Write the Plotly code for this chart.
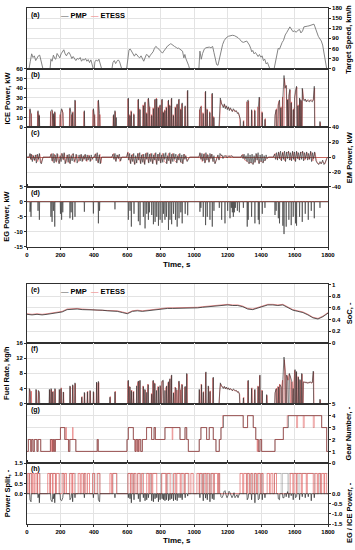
import plotly.graph_objects as go

# ---------------- DATA ----------------
SPEED = [(0,0),(12,0),(20,22),(28,44),(36,33),(44,38),(52,24),(60,30),(68,38),(76,40),(84,22),(90,10),(95,0),
 (138,0),(143,28),(150,22),(158,40),(166,30),(172,28),(180,45),(188,36),(196,32),(204,44),(212,52),(220,56),(228,44),
 (236,38),(244,46),(252,48),(260,40),(268,30),(276,36),(284,30),(292,24),(300,30),(310,28),(318,33),(326,22),(334,28),
 (342,25),(350,30),(358,22),(366,27),(374,18),(382,26),(390,14),(396,0),(402,0),(406,20),(414,26),(422,22),(430,28),
 (438,16),(446,0),(508,0),(514,18),(522,24),(530,15),(538,22),(546,26),(554,20),(560,10),(566,0),(596,0),(602,30),
 (610,56),(618,58),(626,50),(634,40),(642,37),(650,44),(658,41),(666,35),(674,32),(682,38),(690,27),(698,22),(706,32),
 (714,42),(722,40),(730,33),(738,40),(746,45),(754,50),(762,60),(770,66),(778,63),(786,58),(794,55),(802,50),(810,46),
 (818,52),(826,58),(834,62),(842,68),(850,70),(858,74),(866,72),(874,68),(882,66),(890,64),(898,60),(906,61),(914,58),
 (922,56),(930,52),(938,32),(944,42),(950,30),(958,22),(966,10),(972,0),(1028,0),(1034,52),(1042,28),(1050,45),
 (1060,58),(1070,62),(1080,63),(1090,64),(1100,62),(1110,66),(1118,48),(1126,26),(1134,12),(1142,10),(1150,30),
 (1160,55),(1170,72),(1180,84),(1192,92),(1204,96),(1216,98),(1228,99),(1240,98),(1250,96),(1262,92),(1274,86),
 (1284,80),(1294,78),(1304,80),(1314,82),(1322,76),(1330,70),(1338,60),(1344,50),(1350,54),(1358,44),(1366,48),
 (1374,40),(1382,36),(1390,42),(1398,34),(1406,38),(1414,24),(1422,28),(1430,14),(1438,18),(1446,6),(1452,0),
 (1478,0),(1486,22),(1494,44),(1502,60),(1510,58),(1518,70),(1526,78),(1534,84),(1544,100),(1554,108),(1564,120),
 (1572,124),(1580,118),(1590,110),(1600,112),(1610,108),(1620,114),(1630,116),(1638,106),(1648,112),(1656,124),
 (1666,126),(1676,126),(1686,127),(1696,128),(1706,130),(1716,132),(1722,124),(1732,108),(1742,96),(1752,88),
 (1760,82),(1768,70),(1776,45),(1784,25),(1792,0),(1800,0)]

ICE_PMP = [(18,19),(24,13),(66,17),(74,12),(143,17),(150,18),(158,14),(166,16),(200,14),(207,19),(214,15),(257,20),
 (264,14),(273,15),(287,28),(343,17),(397,19),(403,12),(427,28),(434,14),(518,13),(526,17),(534,10),
 (606,30),(616,12),(624,16),(640,13),(666,29),(676,18),(696,22),(706,26),(716,14),(726,30),(732,20),(746,12),(756,19),
 (766,29),(776,29),(786,20),(796,23),(808,29),(816,15),(825,17),(834,20),(846,28),(855,22),(865,30),(876,12),(888,20),
 (898,24),(909,29),(920,18),(928,25),(946,22),(961,38),
 (1034,19),(1040,21),(1054,14),(1068,37),(1078,18),(1094,15),(1108,35),(1118,10),
 (1150,12),(1156,30),(1162,25),(1168,22),(1174,20),(1180,24),(1186,19),(1192,22),(1198,18),(1204,21),(1210,17),
 (1216,20),(1222,18),(1228,16),(1234,19),(1240,17),(1246,16),(1252,17),(1258,14),(1264,15),(1270,12),(1276,8),
 (1294,6),(1317,27),(1323,28),(1343,18),(1363,17),(1383,20),(1389,31),(1407,15),(1423,8),
 (1483,12),(1490,18),(1503,22),(1510,28),(1518,20),(1530,30),(1537,53),(1543,40),(1550,43),(1558,28),(1566,33),
 (1572,39),(1580,25),(1592,18),(1600,30),(1606,38),(1612,42),(1620,22),(1630,30),(1638,28),
 (1646,40),(1652,28),(1658,27),(1664,29),(1670,26),(1676,28),(1682,27),(1688,26),(1694,28),(1700,27),(1706,26),
 (1712,28),(1718,42),(1752,6)]

ICE_ETESS = [(16,18),(26,14),(64,16),(72,13),(141,16),(152,17),(160,12),(168,15),(198,13),(209,18),(216,14),(255,19),
 (266,13),(275,16),(289,27),(341,16),(395,18),(405,13),(425,27),(436,13),(516,12),(528,16),
 (604,29),(614,13),(622,17),(638,14),(664,28),(674,19),(694,23),(704,25),(714,15),(724,29),(734,21),(744,13),(754,20),
 (764,28),(774,30),(784,21),(794,22),(806,28),(814,16),(823,18),(832,21),(844,27),(853,23),(863,29),(874,13),(886,21),
 (896,23),(907,28),(918,19),(926,24),(944,21),(959,37),
 (1032,18),(1042,22),(1052,15),(1066,36),(1076,19),(1092,16),(1106,34),(1116,11),
 (1152,14),(1158,28),(1164,24),(1170,23),(1176,21),(1182,23),(1188,20),(1194,21),(1200,19),(1206,20),(1212,18),
 (1218,19),(1224,17),(1230,17),(1236,18),(1242,16),(1248,17),(1254,16),(1260,15),(1266,14),(1272,10),
 (1296,7),(1315,26),(1325,27),(1345,17),(1361,18),(1381,21),(1391,30),(1405,16),(1425,9),
 (1485,13),(1492,19),(1501,23),(1508,27),(1520,21),(1528,31),(1539,50),(1545,41),(1552,42),(1560,29),(1568,32),
 (1574,38),(1582,26),(1594,19),(1602,31),(1608,37),(1614,41),(1622,23),(1632,29),(1640,27),
 (1648,39),(1654,29),(1660,28),(1666,28),(1672,27),(1678,27),(1684,28),(1690,27),(1696,27),(1702,28),(1708,27),
 (1714,29),(1720,40),(1754,5)]

EM_PMP = [(0,0),(12,0),(18,5),(22,-3),(26,4),(32,-6),(38,2),(44,-4),(50,3),(56,-8),(62,4),(68,-3),(74,5),(80,-7),
 (86,-9),(92,-4),(96,0),(138,0),(144,4),(150,-5),(156,5),(162,-8),(168,3),(174,-6),(180,5),(186,-4),(192,-9),(198,2),
 (204,-6),(210,5),(216,-3),(222,6),(228,-9),(234,-4),(240,3),(246,-7),(252,4),(258,-9),(264,2),(270,-5),(276,5),
 (282,-6),(288,-3),(294,4),(300,-8),(306,-2),(312,3),(318,-5),(324,4),(330,-6),(336,2),(342,-3),(348,4),(354,-5),
 (360,3),(366,-4),(372,2),(378,-6),(384,3),(390,-3),(396,0),(402,0),(408,4),(414,-5),(420,6),(426,-8),(432,3),
 (438,-9),(446,0),(508,0),(514,4),(520,-3),(526,5),(532,-6),(538,3),(546,-2),(552,4),(560,-5),(566,0),(596,0),
 (602,6),(608,-4),(614,5),(620,-9),(626,3),(632,-6),(638,5),(644,-10),(650,2),(656,-8),(662,5),(668,-4),(674,6),
 (680,-9),(686,3),(692,-7),(698,4),(704,-10),(710,5),(716,-3),(722,6),(728,-8),(734,4),(740,-6),(746,5),(752,-9),
 (758,3),(764,-4),(770,6),(776,-10),(782,4),(788,-5),(794,6),(800,-8),(806,3),(812,-7),(818,5),(824,-3),(830,6),
 (836,-9),(842,2),(848,-5),(854,6),(860,-9),(866,4),(872,-6),(878,5),(884,-3),(890,4),(896,-8),(902,2),(908,-4),
 (914,5),(920,-7),(926,3),(932,-9),(938,4),(944,-3),(950,2),(958,-6),(966,-3),(972,0),(1028,0),(1034,6),(1040,-3),
 (1046,5),(1052,-5),(1058,4),(1064,-8),(1070,6),(1076,-4),(1082,3),(1088,-7),(1094,5),(1100,-2),(1106,4),(1112,-6),
 (1118,2),(1124,-9),(1130,-5),(1136,-2),(1142,3),(1148,-4),(1154,5),(1160,2),(1166,3),(1172,-2),(1178,2),(1184,1),
 (1190,2),(1196,-1),(1202,1),(1208,2),(1214,0),(1220,1),(1226,2),(1232,0),(1280,0),(1286,3),(1292,-2),(1298,4),
 (1304,-3),(1310,2),(1316,-6),(1322,5),(1328,-9),(1334,3),(1340,-8),(1346,4),(1352,-10),(1358,2),(1364,-7),(1370,5),
 (1376,-4),(1382,6),(1388,-9),(1394,3),(1400,-6),(1406,4),(1412,-8),(1418,2),(1424,-5),(1430,3),(1436,-2),(1444,0),
 (1473,0),(1480,4),(1486,-3),(1492,6),(1498,-4),(1504,7),(1510,-2),(1516,8),(1522,-5),(1528,6),(1534,-3),(1540,8),
 (1546,-6),(1552,7),(1558,-2),(1564,8),(1570,-4),(1576,6),(1582,-5),(1588,8),(1594,-3),(1600,7),(1606,-6),(1612,8),
 (1618,-2),(1624,6),(1630,-4),(1636,7),(1642,-3),(1648,8),(1654,-5),(1660,6),(1666,-2),(1672,7),(1678,-4),(1684,5),
 (1690,-3),(1696,8),(1702,-6),(1708,6),(1714,-2),(1720,7),(1728,-5),(1736,-8),(1744,-10),(1752,-6),(1760,-9),
 (1768,-4),(1776,-10),(1784,-7),(1792,-2),(1800,0)]

EM_ETESS = [(0,0),(14,0),(20,4),(28,-4),(34,3),(46,-5),(58,3),(64,-6),(76,4),(84,-8),(96,0),(138,0),(146,5),(154,-6),
 (164,4),(176,-7),(184,4),(194,-8),(206,5),(218,-4),(224,5),(232,-8),(244,3),(254,-8),(266,3),(278,4),(286,-7),
 (298,3),(310,-6),(322,3),(334,-5),(346,3),(358,-6),(370,3),(382,-5),(396,0),(404,0),(412,5),(424,-7),(436,4),
 (442,-8),(446,0),(508,0),(518,5),(530,-5),(544,3),(556,-6),(566,0),(596,0),(604,7),(618,-8),(630,4),(642,-9),
 (654,-7),(666,5),(678,-8),(690,4),(702,-9),(714,6),(726,-7),(738,5),(750,-8),(762,5),(774,-9),(786,4),(798,-7),
 (810,5),(822,-6),(834,-8),(846,5),(858,-8),(870,5),(882,-5),(894,-7),(906,4),(918,-6),(930,-8),(942,4),(956,-5),
 (972,0),(1028,0),(1036,5),(1048,-6),(1060,5),(1066,-7),(1078,4),(1090,-6),(1102,4),(1114,-5),(1126,-8),(1140,2),
 (1150,-3),(1162,3),(1176,-1),(1190,2),(1206,1),(1220,2),(1232,0),(1280,0),(1290,4),(1302,-4),(1314,-5),(1326,-8),
 (1338,-7),(1350,-9),(1362,-6),(1374,4),(1386,-8),(1398,-5),(1410,-7),(1422,-4),(1444,0),(1473,0),(1484,5),(1496,-3),
 (1506,6),(1518,-4),(1530,7),(1542,-5),(1554,6),(1566,7),(1578,-4),(1590,7),(1602,-5),(1614,7),(1626,-3),(1638,6),
 (1650,7),(1662,-4),(1674,6),(1686,-3),(1698,7),(1710,-5),(1722,6),(1734,-7),(1746,-9),(1758,-8),(1770,-6),
 (1782,-9),(1792,-2),(1800,0)]

EG_PMP = [(18,-3.3),(24,-5),(66,-3),(74,-6),(143,-5),(150,-6.7),(158,-3),(166,-8.3),(200,-4),(207,-6),(214,-3.5),
 (257,-5.5),(264,-3.5),(273,-6),(287,-5),(343,-3.3),(397,-3.9),(427,-7.2),(434,-3),(526,-2.5),
 (606,-6),(616,-3),(624,-8.3),(640,-4),(666,-6.5),(676,-7.8),(696,-5),(706,-8.9),(716,-4),(726,-6),(732,-3.5),
 (746,-4.4),(756,-7.5),(766,-6.7),(776,-5),(786,-8),(796,-6),(808,-7),(816,-4),(825,-6),(834,-5),(846,-9.4),(855,-6),
 (865,-7.5),(876,-4),(888,-6),(898,-8.3),(909,-5.5),(920,-3.5),(928,-7.2),(946,-4),(961,-4.5),
 (1034,-3.3),(1040,-2),(1054,-5),(1068,-7.8),(1078,-5),(1094,-6),(1108,-8.3),(1118,-3),
 (1150,-2),(1164,-6),(1184,-7.2),(1200,-3),(1214,-5.5),(1222,-2),(1228,-3.5),(1234,-5),(1240,-3.5),(1246,-2),
 (1258,-3),(1270,-3.5),(1294,-2),(1317,-8.3),(1323,-6),(1343,-5),(1363,-7.2),(1383,-6),(1389,-7.5),(1407,-4),
 (1423,-2),(1483,-4.4),(1490,-3),(1503,-5.5),(1510,-7.2),(1530,-8),(1537,-10.8),(1550,-8.3),(1566,-6),(1580,-7.8),
 (1592,-5),(1606,-7.2),(1612,-8),(1630,-5),(1646,-6.7),(1664,-4),(1682,-6),(1700,-3),(1718,-5.5),(1752,-2)]

FUEL_PMP = [(14,4.0),(20,3.1),(54,3.8),(68,3.5),(74,3.0),(134,3.8),(144,4.0),(154,3.1),(167,4.0),(193,3.8),(203,4.0),
 (217,3.1),(257,4.7),(273,5.0),(287,5.5),(327,1.7),(343,3.0),(361,3.1),(377,3.5),(397,3.2),(416,5.7),(427,5.9),
 (496,1.7),(526,3.1),(606,6.2),(616,4.4),(624,3.4),(636,3.1),(656,4.7),(666,6.0),(676,6.2),(696,4.5),(705,3.8),
 (716,3.0),(725,5.0),(746,2.5),(755,6.2),(765,5.3),(775,3.5),(786,4.4),(796,4.8),(808,6.0),(815,6.2),(825,3.5),
 (835,4.7),(846,5.8),(855,6.6),(865,7.6),(876,2.8),(888,4.2),(895,3.8),(909,6.0),(915,3.5),(928,5.0),(946,4.6),
 (955,8.0),(1030,3.8),(1044,5.0),(1054,3.0),(1070,8.4),(1084,4.7),(1094,3.2),(1114,7.0),
 (1150,3.0),(1156,5.5),(1162,4.8),(1168,4.4),(1174,4.0),(1180,4.6),(1186,3.9),(1192,4.4),(1198,3.8),(1204,4.2),
 (1210,3.6),(1216,4.0),(1222,3.7),(1228,3.4),(1234,3.9),(1240,3.5),(1246,3.4),(1252,3.5),(1258,3.0),(1264,3.2),
 (1270,2.6),(1294,1.5),(1323,6.2),(1343,4.0),(1363,3.8),(1383,4.5),(1393,7.6),(1407,3.4),(1433,2.4),
 (1483,2.8),(1490,3.9),(1503,4.4),(1513,5.0),(1520,4.4),(1530,6.4),(1537,12.3),(1543,8.6),(1553,7.6),(1560,6.0),
 (1569,8.0),(1576,7.0),(1583,6.0),(1592,4.0),(1603,9.0),(1612,8.5),(1623,7.0),(1632,6.4),(1643,8.0),
 (1652,5.6),(1658,5.8),(1664,5.5),(1670,5.7),(1676,5.4),(1682,5.6),(1688,5.5),(1694,5.8),(1700,5.5),(1706,5.6),
 (1712,8.6),(1752,1.2)]

FUEL_ETESS = [(16,3.8),(26,3.3),(56,3.6),(70,3.3),(136,3.6),(146,3.8),(156,3.3),(169,3.8),(195,3.6),(205,4.2),
 (219,3.0),(259,4.5),(275,4.8),(289,5.3),(329,1.9),(345,2.8),(363,3.3),(379,3.3),(399,3.0),(418,5.5),(429,5.6),
 (498,1.9),(528,3.3),(604,6.0),(614,4.6),(626,3.6),(638,3.3),(658,4.5),(664,5.8),(674,6.0),(694,4.7),(707,3.6),
 (718,3.2),(723,5.2),(744,2.7),(753,6.0),(763,5.5),(777,3.3),(784,4.6),(798,4.6),(806,5.8),(813,6.0),(827,3.7),
 (833,4.5),(844,5.6),(853,6.4),(863,7.4),(878,3.0),(886,4.4),(897,3.6),(907,5.8),(917,3.7),(926,5.2),(944,4.4),
 (957,7.8),(1032,3.6),(1042,5.2),(1056,3.2),(1068,8.2),(1086,4.5),(1096,3.4),(1112,6.8),
 (1152,3.2),(1158,5.2),(1164,4.6),(1170,4.5),(1176,4.2),(1182,4.4),(1188,4.0),(1194,4.2),(1200,3.9),(1206,4.0),
 (1212,3.8),(1218,3.9),(1224,3.6),(1230,3.5),(1236,3.7),(1242,3.4),(1248,3.5),(1254,3.3),(1260,3.1),(1266,3.0),
 (1272,2.4),(1296,1.7),(1321,6.0),(1345,4.2),(1361,3.6),(1381,4.7),(1391,7.4),(1405,3.6),(1435,2.2),
 (1485,3.0),(1492,4.1),(1501,4.6),(1511,5.2),(1522,4.2),(1528,6.2),(1539,11.6),(1545,8.4),(1555,7.4),(1562,6.2),
 (1567,7.8),(1574,7.2),(1585,5.8),(1594,4.2),(1601,8.8),(1610,8.3),(1621,7.2),(1634,6.2),(1645,7.8),
 (1654,5.8),(1660,5.6),(1666,5.7),(1672,5.5),(1678,5.6),(1684,5.4),(1690,5.7),(1696,5.6),(1702,5.4),(1708,5.7),
 (1714,8.4),(1754,1.0)]

SOC_PMP = [(0,0.49),(30,0.48),(60,0.49),(90,0.48),(120,0.49),(150,0.50),(180,0.51),(210,0.53),(240,0.57),(270,0.58),
 (300,0.58),(330,0.57),(360,0.57),(390,0.57),(420,0.56),(450,0.56),(480,0.55),(510,0.55),(540,0.54),(570,0.52),
 (600,0.50),(630,0.54),(660,0.55),(690,0.54),(720,0.55),(750,0.56),(780,0.58),(810,0.58),(840,0.59),(870,0.59),
 (900,0.59),(930,0.59),(960,0.59),(990,0.60),(1020,0.60),(1050,0.61),(1080,0.62),(1110,0.62),(1140,0.63),
 (1170,0.64),(1200,0.65),(1230,0.64),(1260,0.64),(1290,0.62),(1320,0.58),(1350,0.57),(1380,0.60),(1410,0.63),
 (1440,0.65),(1470,0.65),(1500,0.64),(1530,0.65),(1560,0.60),(1590,0.56),(1620,0.54),(1650,0.52),(1680,0.48),
 (1710,0.43),(1740,0.41),(1770,0.45),(1800,0.51)]

SOC_ETESS = [(0,0.50),(30,0.49),(60,0.50),(90,0.49),(120,0.50),(150,0.51),(180,0.52),(210,0.54),(240,0.58),
 (270,0.59),(300,0.59),(330,0.58),(360,0.58),(390,0.57),(420,0.56),(450,0.56),(480,0.56),(510,0.56),(540,0.55),
 (570,0.53),(600,0.51),(630,0.55),(660,0.56),(690,0.55),(720,0.56),(750,0.57),(780,0.59),(810,0.59),(840,0.60),
 (870,0.60),(900,0.60),(930,0.60),(960,0.60),(990,0.61),(1020,0.61),(1050,0.62),(1080,0.63),(1110,0.63),
 (1140,0.64),(1170,0.65),(1200,0.66),(1230,0.65),(1260,0.65),(1290,0.63),(1320,0.59),(1350,0.58),(1380,0.61),
 (1410,0.64),(1440,0.66),(1470,0.66),(1500,0.65),(1530,0.66),(1560,0.61),(1590,0.57),(1620,0.55),(1650,0.53),
 (1680,0.49),(1710,0.44),(1740,0.42),(1770,0.46),(1800,0.52)]

GEAR_PMP = [(0,1),(8,2),(22,1),(28,2),(36,1),(44,2),(60,1),(66,2),(82,1),(140,2),(152,1),(158,2),(164,1),(170,2),
 (200,3),(226,2),(238,2),(248,1),(256,2),(280,2),(292,1),(420,2),(426,1),(598,2),(606,3),(636,2),(646,1),(652,2),
 (662,1),(668,2),(680,1),(690,2),(715,3),(745,2),(760,3),(768,2),(825,3),(915,2),(945,3),(955,2),(965,1),(1030,2),
 (1040,3),(1074,2),(1090,3),(1114,2),(1130,1),(1150,2),(1160,3),(1174,4),(1293,3),(1319,4),(1353,3),(1368,2),
 (1383,1),(1393,2),(1403,1),(1483,2),(1533,3),(1562,4),(1762,3),(1792,1),(1800,1)]

GEAR_ETESS = [(0,1),(8,2),(22,1),(28,2),(36,1),(44,2),(60,1),(66,2),(82,1),(140,2),(146,1),(150,2),(152,1),(158,2),
 (164,1),(170,2),(200,3),(226,2),(232,3),(236,2),(248,1),(256,2),(272,3),(276,2),(280,2),(292,1),(420,2),(426,1),
 (598,2),(606,3),(636,2),(646,1),(650,2),(656,1),(662,2),(668,1),(672,2),(680,1),(690,2),(715,3),(745,2),(760,3),
 (768,2),(825,3),(868,2),(872,3),(915,2),(945,3),(955,2),(965,1),(1030,2),(1040,3),(1074,2),(1090,3),(1114,2),
 (1130,1),(1150,2),(1160,3),(1170,4),(1293,3),(1319,4),(1353,3),(1368,2),(1376,1),(1380,2),(1383,1),(1393,2),
 (1403,1),(1483,2),(1533,3),(1556,4),(1612,3),(1618,4),(1652,3),(1658,4),(1712,3),(1718,4),(1762,3),(1792,1),(1800,1)]

SPLIT_PMP = [(14,26,1),(62,78,1),(140,170,1),(196,218,1),(254,290,1),(340,346,1),(394,406,1),(424,436,1),(514,538,1),
 (602,628,1),(636,644,1),(662,680,1),(692,738,1),(744,800,1),(804,836,1),(842,868,1),(884,932,1),(944,964,1),
 (1030,1044,1),(1050,1058,1),(1064,1080,1),(1090,1096,1),(1104,1120,1),(1146,1152,1),(1314,1328,1),(1340,1346,1),
 (1360,1368,1),(1384,1398,1),(1404,1410,1),(1480,1520,1),(1528,1560,1),(1566,1620,1),(1628,1720,1),(1748,1756,1)]

SPLIT_ETESS = [(2,12,1),(16,28,1),(34,42,1),(48,60,1),(64,76,1),(124,136,1),(140,152,1),(156,170,1),(176,192,1),
 (210,222,1),(226,236,1),(256,268,1),(272,282,1),(306,318,1),(324,336,1),(342,352,1),(362,374,1),(392,404,1),
 (420,436,1),(496,506,1),(512,536,1),(604,618,1),(622,634,1),(640,652,1),(662,676,1),(684,696,1),(716,728,1),
 (734,746,1),(752,776,1),(806,830,1),(836,856,1),(876,890,1),(896,916,1),(922,940,1),(946,968,1),(980,994,1),
 (1016,1030,1),(1034,1048,1),(1056,1070,1),(1076,1090,1),(1100,1114,1),(1120,1140,1),(1144,1152,1),(1274,1290,1),
 (1296,1312,1),(1318,1330,1),(1338,1350,1),(1360,1372,1),(1378,1394,1),(1400,1412,1),(1436,1450,1),(1458,1470,1),
 (1480,1492,1),(1574,1590,1),(1596,1610,1),(1614,1640,1),(1646,1670,1),(1676,1712,1),(1722,1736,1),(1742,1756,1),
 (1762,1776,1),(1780,1792,1)]

EGICE_PMP = [(18,-0.3),(24,-0.4),(66,-0.2),(74,-0.45),(143,-0.3),(150,-0.4),(158,-0.25),(166,-0.45),(200,-0.3),
 (207,-0.35),(214,-0.2),(257,-0.3),(264,-0.2),(273,-0.4),(287,-0.2),(343,-0.2),(397,-0.2),(427,-0.3),(434,-0.4),
 (526,-0.2),(606,-0.2),(616,-0.25),(624,-0.45),(640,-0.3),(666,-0.25),(676,-0.4),(696,-0.2),(706,-0.35),(716,-0.3),
 (726,-0.2),(746,-0.35),(756,-0.4),(766,-0.25),(776,-0.2),(786,-0.4),(796,-0.3),(808,-0.25),(816,-0.3),(825,-0.35),
 (834,-0.3),(846,-0.35),(855,-0.3),(865,-0.25),(876,-0.35),(888,-0.3),(898,-0.35),(909,-0.2),(920,-0.2),(928,-0.3),
 (946,-0.2),(961,-0.12),(1034,-0.2),(1054,-0.35),(1068,-0.22),(1078,-0.3),(1094,-0.4),(1108,-0.25),(1118,-0.3),
 (1160,-0.15),(1166,-0.2),(1172,-0.1),(1178,0.1),(1184,0.15),(1190,-0.05),(1196,-0.2),(1202,-0.1),(1208,0.12),
 (1214,0.05),(1220,-0.15),(1226,-0.2),(1232,-0.1),(1238,0.05),(1244,-0.2),(1250,-0.15),(1256,-0.05),(1262,-0.2),
 (1268,-0.1),(1317,-0.3),(1323,-0.2),(1343,-0.3),(1363,-0.45),(1383,-0.3),(1389,-0.25),(1407,-0.3),(1423,-0.2),
 (1503,-0.25),(1510,-0.3),(1530,-0.2),(1537,-0.2),(1550,-0.15),(1558,0.1),(1566,-0.2),(1580,-0.1),(1592,-0.3),
 (1606,-0.2),(1612,-0.15),(1630,-0.3),(1646,-0.15),(1664,-0.2),(1682,-0.15),(1700,-0.35),(1718,-0.2)]

TIME_TICKS = [0, 200, 400, 600, 800, 1000, 1200, 1400, 1600, 1800]

# ---------------- helpers ----------------
def pairs(lst):
    return [p[0] for p in lst], [p[1] for p in lst]

def spikes(lst, hw=2.0, join=7):
    xs, ys = [0], [0]
    prev = None
    for t, v in lst:
        if prev is None or t - prev > join:
            if prev is not None:
                xs.append(prev + hw); ys.append(0)
            xs.append(t - hw); ys.append(0)
        xs.append(t); ys.append(v)
        prev = t
    xs += [prev + hw, 1800]; ys += [0, 0]
    return xs, ys

def blocks(lst):
    xs, ys = [0], [0]
    for s, e, lev in lst:
        xs += [s, s, e, e]; ys += [0, lev, lev, 0]
    xs.append(1800); ys.append(0)
    return xs, ys

# ---------------- layout geometry ----------------
W, H = 355, 550
ML, MR, MT, MB = 27, 27, 5, 26
PH = H - MT - MB

def dom(top, bot):
    return [(H - MB - bot) / PH, (H - MB - top) / PH]

PANELS = {1: (5, 66), 2: (66, 125), 3: (125, 185), 4: (185, 245),
          5: (283, 342), 6: (342, 403), 7: (403, 463), 8: (463, 524)}

PMP_C = '#2e2e2e'
ET_C = 'rgba(222,80,80,0.7)'
FONT = 'Arial, Liberation Sans, sans-serif'
AXLINE = '#303030'

fig = go.Figure()

def add(xy, xa, ya, color, width=0.7, shape='linear'):
    fig.add_trace(go.Scatter(x=xy[0], y=xy[1], xaxis=xa, yaxis=ya, mode='lines',
                             line=dict(color=color, width=width, shape=shape),
                             hoverinfo='skip', showlegend=False))

# (a) speed
add(pairs(SPEED), 'x', 'y', '#767676', 0.9)
# (b) ICE power
add(spikes(ICE_ETESS), 'x', 'y2', ET_C, 0.9)
add(spikes(ICE_PMP), 'x', 'y2', PMP_C, 0.6)
# (c) EM power
add(pairs(EM_ETESS), 'x', 'y3', ET_C, 0.8)
add(pairs(EM_PMP), 'x', 'y3', PMP_C, 0.6)
# (d) EG power
add(spikes(EG_PMP, hw=1.5, join=3), 'x', 'y4', PMP_C, 0.6)
# (e) SoC
add(pairs(SOC_ETESS), 'x2', 'y5', ET_C, 0.9)
add(pairs(SOC_PMP), 'x2', 'y5', PMP_C, 0.8)
# (f) Fuel rate
add(spikes(FUEL_ETESS), 'x2', 'y6', ET_C, 0.9)
add(spikes(FUEL_PMP), 'x2', 'y6', PMP_C, 0.6)
# (g) Gear
add(pairs(GEAR_PMP), 'x2', 'y7', PMP_C, 0.7, 'hv')
add(pairs(GEAR_ETESS), 'x2', 'y7', ET_C, 0.7, 'hv')
# (h) power split and EG/ICE power
add(blocks(SPLIT_PMP), 'x2', 'y8', 'rgba(60,60,60,0.5)', 0.5)
add(blocks(SPLIT_ETESS), 'x2', 'y8', 'rgba(222,70,70,0.85)', 0.7)
add(spikes(EGICE_PMP, hw=2, join=7), 'x2', 'y9', PMP_C, 0.7)

tickfont = dict(family=FONT, size=6, color='black', weight='bold')
GRID = '#e3e3e3'

def yax(n, side, rng, vals, labels=None, anchor='x', overlay=None, zeroline=False):
    d = dict(range=rng, side=side, anchor=anchor, tickvals=vals,
             ticktext=labels if labels is not None else ['%g' % v for v in vals],
             showline=True, mirror=True, linecolor=AXLINE, linewidth=0.8,
             ticks='outside', ticklen=2, tickcolor=AXLINE, tickfont=tickfont,
             showgrid=True, gridcolor=GRID, gridwidth=0.6, fixedrange=True,
             zeroline=zeroline, zerolinecolor='rgba(190,90,80,0.9)', zerolinewidth=0.8)
    if overlay:
        d['overlaying'] = overlay
    else:
        d['domain'] = dom(*PANELS[n])
    return d

xcommon = dict(range=[0, 1800], tickvals=TIME_TICKS, ticktext=[str(v) for v in TIME_TICKS],
               showline=True, mirror='all', linecolor=AXLINE, linewidth=0.8, ticks='outside', ticklen=2,
               tickcolor=AXLINE, tickfont=tickfont, showgrid=True, gridcolor=GRID, gridwidth=0.6,
               zeroline=False, fixedrange=True, domain=[0, 1])

fig.update_layout(
    width=W, height=H, margin=dict(l=ML, r=MR, t=MT, b=MB),
    paper_bgcolor='white', plot_bgcolor='white', showlegend=False,
    font=dict(family=FONT, color='black'),
    xaxis=dict(xcommon, anchor='y4'),
    xaxis2=dict(xcommon, anchor='y8'),
    yaxis=yax(1, 'right', [0, 180], [0, 30, 60, 90, 120, 150, 180]),
    yaxis2=yax(2, 'left', [0, 60], [0, 10, 20, 30, 40, 50, 60]),
    yaxis3=yax(3, 'right', [-40, 40], [-40, -20, 0, 20, 40], ['-40', '-20', '0', '20', '40'], zeroline=True),
    yaxis4=yax(4, 'left', [-15, 5], [-15, -10, -5, 0, 5], ['-15', '-10', '-5', '0', '5'], zeroline=True),
    yaxis5=yax(5, 'right', [0, 1], [0, 0.2, 0.4, 0.6, 0.8, 1], ['0', '0.2', '0.4', '0.6', '0.8', '1'], anchor='x2'),
    yaxis6=yax(6, 'left', [0, 16], [0, 4, 8, 12, 16], anchor='x2'),
    yaxis7=yax(7, 'right', [0, 5], [0, 1, 2, 3, 4, 5], anchor='x2'),
    yaxis8=yax(8, 'left', [-1.5, 1.5], [0, 0.5, 1, 1.5], ['0.0', '0.5', '1.0', '1.5'], anchor='x2'),
    yaxis9=yax(9, 'right', [-1.5, 1.5], [-1.5, -1, -0.5, 0], ['-1.5', '-1.0', '-0.5', '0.0'], anchor='x2',
               overlay='y8'),
)

ann = []
def px_x(x):
    return (x - ML) / (W - ML - MR)
def px_y(y):
    return (H - MB - y) / PH

def text(x, y, s, size=7.5, angle=0, xanchor='center', yanchor='middle'):
    ann.append(dict(x=px_x(x), y=px_y(y), xref='paper', yref='paper', text=s, showarrow=False,
                    textangle=angle, xanchor=xanchor, yanchor=yanchor,
                    font=dict(family=FONT, size=size, color='black', weight='bold')))

for lab, y in [('(a)', 12), ('(b)', 72), ('(c)', 131), ('(d)', 191), ('(e)', 289), ('(f)', 348),
               ('(g)', 409), ('(h)', 469)]:
    text(29, y, lab, 7, xanchor='left')

text(349, 36, 'Target Speed, km/h', 7.5, -90)
text(7, 96, 'ICE Power, kW', 7.5, -90)
text(349, 155, 'EM Power, kW', 7.5, -90)
text(7, 215, 'EG Power, kW', 7.5, -90)
text(349, 312, 'SoC, -', 7.5, -90)
text(7, 372, 'Fuel Rate, kg/h', 7.5, -90)
text(349, 433, 'Gear Number, -', 7.5, -90)
text(7, 493, 'Power Split, -', 7.5, -90)
text(349, 512, 'EG / ICE Power, -', 7.5, -90)
text(177, 263, 'Time, s', 8)
text(177, 541, 'Time, s', 8)

leg = ("<span style='color:#8c8c8c'>\u2014</span> PMP  "
       "<span style='color:#f0a0a0'>\u2014</span> ETESS")
text(59, 13, leg, 7.5, xanchor='left')
text(59, 290, leg, 7.5, xanchor='left')

fig.update_layout(annotations=ann)
fig.write_html("out.html", config={'displayModeBar': False},
               post_script="document.body.style.margin='0';document.body.style.padding='0';")
